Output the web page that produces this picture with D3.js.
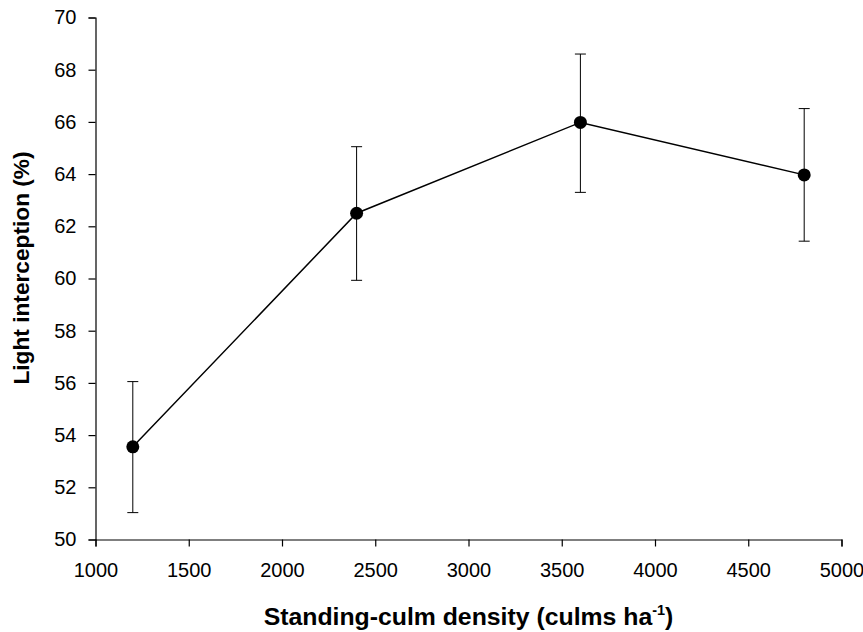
<!DOCTYPE html>
<html>
<head>
<meta charset="utf-8">
<script src="https://cdn.jsdelivr.net/npm/d3@7"></script>
<style>
  html, body { margin: 0; padding: 0; background: #fff; }
  svg { display: block; font-family: "Liberation Sans", Arial, sans-serif; }
</style>
</head>
<body>
<svg id="chart" width="863" height="632"></svg>
<script>
// Standing-culm density vs. light interception (mean ± SE)
const densities = [1200, 2400, 3600, 4800];
const interception = [53.55, 62.5, 65.98, 63.97];
const errUpper = [56.05, 65.05, 68.6, 66.51];
const errLower = [51.03, 59.93, 63.3, 61.43];
const xTicks = [1000, 1500, 2000, 2500, 3000, 3500, 4000, 4500, 5000];
const yTicks = [50, 52, 54, 56, 58, 60, 62, 64, 66, 68, 70];

const svg = d3.select("#chart");
const plotLeft = 95.5, plotRight = 841.5, plotTop = 17.5, plotBottom = 539.5;

const x = d3.scaleLinear().domain([1000, 5000]).range([plotLeft, plotRight]);
const y = d3.scaleLinear().domain([50, 70]).range([plotBottom, plotTop]);

// axes
const xAxis = svg.append("g")
  .attr("transform", `translate(0,${plotBottom})`)
  .call(d3.axisBottom(x).tickValues(xTicks).tickFormat(d3.format("d"))
    .tickSizeOuter(0).tickSize(7).tickPadding(16));
const yAxis = svg.append("g")
  .attr("transform", `translate(${plotLeft},0)`)
  .call(d3.axisLeft(y).tickValues(yTicks).tickFormat(d3.format("d"))
    .tickSizeOuter(0).tickSize(7).tickPadding(12));

[xAxis, yAxis].forEach(g => {
  g.attr("font-family", null).attr("font-size", null);
  g.select(".domain").attr("stroke", "#000").attr("stroke-width", 1.2);
  g.selectAll(".tick line").attr("stroke", "#000").attr("stroke-width", 1.2);
  g.selectAll(".tick text")
    .attr("fill", "#000")
    .style("font-size", "20px")
    .style("font-family", "'Liberation Sans', Arial, sans-serif");
});

const data = densities.map((d, i) => ({
  x: d, y: interception[i], hi: errUpper[i], lo: errLower[i]
}));

// error bars
const eb = svg.append("g").attr("stroke", "#000").attr("stroke-width", 1);
eb.selectAll("line.v").data(data).enter().append("line").attr("class", "v")
  .attr("x1", d => x(d.x)).attr("x2", d => x(d.x))
  .attr("y1", d => y(d.hi)).attr("y2", d => y(d.lo));
eb.selectAll("line.t").data(data).enter().append("line").attr("class", "t")
  .attr("x1", d => x(d.x) - 5.5).attr("x2", d => x(d.x) + 5.5)
  .attr("y1", d => y(d.hi)).attr("y2", d => y(d.hi));
eb.selectAll("line.b").data(data).enter().append("line").attr("class", "b")
  .attr("x1", d => x(d.x) - 5.5).attr("x2", d => x(d.x) + 5.5)
  .attr("y1", d => y(d.lo)).attr("y2", d => y(d.lo));

// connecting line
svg.append("path")
  .datum(data)
  .attr("fill", "none")
  .attr("stroke", "#000")
  .attr("stroke-width", 1.5)
  .attr("d", d3.line().x(d => x(d.x)).y(d => y(d.y)));

// markers
svg.selectAll("circle").data(data).enter().append("circle")
  .attr("cx", d => x(d.x)).attr("cy", d => y(d.y))
  .attr("r", 6.5).attr("fill", "#000");

// axis titles
const xt = svg.append("text")
  .attr("x", (plotLeft + plotRight) / 2).attr("y", 625)
  .attr("text-anchor", "middle")
  .style("font-size", "24.8px").style("font-weight", "bold");
xt.append("tspan").text("Standing-culm density (culms ha");
xt.append("tspan").attr("dy", -10).style("font-size", "14.5px").text("-1");
xt.append("tspan").attr("dy", 10).text(")");

svg.append("text")
  .attr("transform", `translate(29,268) rotate(-90)`)
  .attr("text-anchor", "middle")
  .style("font-size", "22.7px").style("font-weight", "bold")
  .text("Light interception (%)");
</script>
</body>
</html>
